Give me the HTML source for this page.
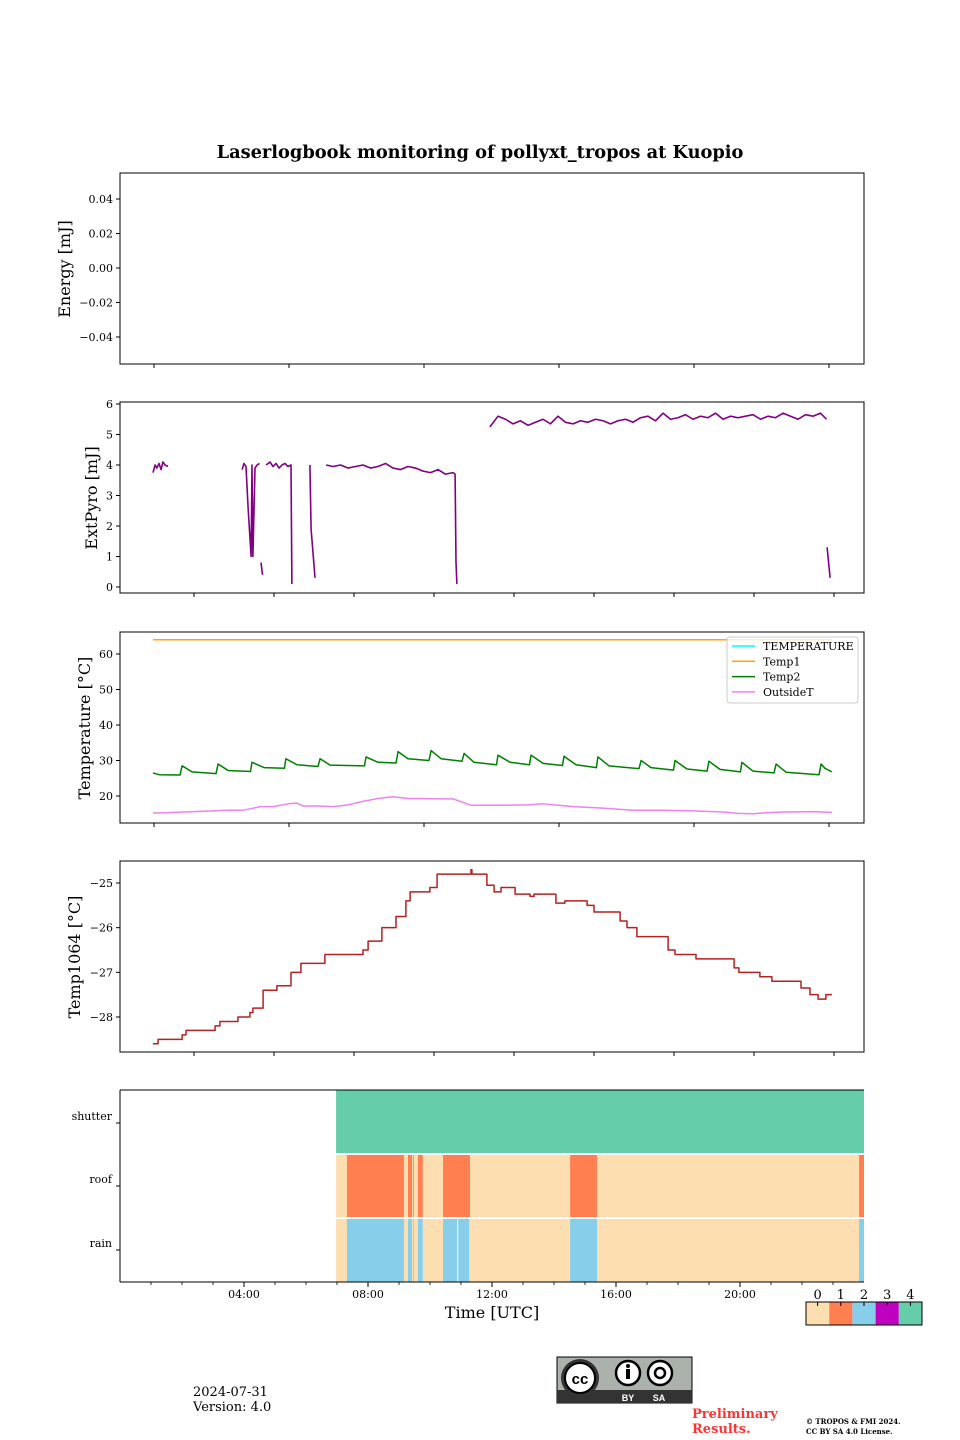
<!DOCTYPE html>
<html><head><meta charset="utf-8">
<style>
html,body{margin:0;padding:0;background:#fff;}
svg{display:block;font-family:"DejaVu Serif","Liberation Serif",serif;}
</style></head>
<body>
<svg id="fig" width="960" height="1440" viewBox="0 0 960 1440" xmlns="http://www.w3.org/2000/svg">
<text x="480" y="158" text-anchor="middle" font-size="17.8" font-weight="bold">Laserlogbook monitoring of pollyxt_tropos at Kuopio</text>
<g id="g"></g>
<text x="193" y="1396" font-size="13">2024-07-31</text>
<text x="193" y="1411" font-size="13">Version: 4.0</text>
<g>
<rect x="557" y="1357" width="135" height="46" fill="#aab2ab" stroke="#000" stroke-width="1"/>
<rect x="557" y="1390" width="135" height="13" fill="#333"/>
<circle cx="580" cy="1378" r="19" fill="#333"/>
<circle cx="580" cy="1378" r="15" fill="#fff" stroke="#000" stroke-width="2"/>
<text x="580" y="1384" text-anchor="middle" font-family="Liberation Sans" font-weight="bold" font-size="15">cc</text>
<circle cx="628" cy="1373" r="12" fill="#fff" stroke="#000" stroke-width="2.5"/>
<rect x="626" y="1369" width="4" height="10" fill="#000"/><circle cx="628" cy="1366" r="2" fill="#000"/>
<circle cx="660" cy="1373" r="12" fill="#fff" stroke="#000" stroke-width="2.5"/>
<circle cx="660" cy="1373" r="5" fill="none" stroke="#000" stroke-width="2.5"/>
<text x="628" y="1401" text-anchor="middle" fill="#fff" font-family="Liberation Sans" font-weight="bold" font-size="9">BY</text>
<text x="659" y="1401" text-anchor="middle" fill="#fff" font-family="Liberation Sans" font-weight="bold" font-size="9">SA</text>
</g>
<text x="692" y="1418" font-size="13" font-weight="bold" fill="#ff3333">Preliminary</text>
<text x="692" y="1433" font-size="13" font-weight="bold" fill="#ff3333">Results.</text>
<text x="806" y="1424" font-size="7" font-weight="bold">© TROPOS &amp; FMI 2024.</text>
<text x="806" y="1434" font-size="7" font-weight="bold">CC BY SA 4.0 License.</text>
</svg>
<script>
// ---------- data ----------
const energyTicks = [0.04, 0.02, 0.00, -0.02, -0.04];
const energyTickLabels = ["0.04","0.02","0.00","\u22120.02","\u22120.04"];
const pyroTicks = [0,1,2,3,4,5,6];
const tempTicks = [20,30,40,50,60];
const t1064Ticks = [-25,-26,-27,-28];
const t1064TickLabels = ["\u221225","\u221226","\u221227","\u221228"];

const pyroT = [1.0,1.07,1.13,1.2,1.27,1.33,1.4,1.5,null,
 3.97,4.03,4.1,4.17,4.27,4.3,4.33,4.4,4.47,4.55,null,
 4.6,4.65,null,
 4.77,4.9,5.0,5.1,5.2,5.3,5.4,5.5,5.6,5.63,null,
 6.23,6.27,6.4,null,
 6.77,7.0,7.25,7.5,7.75,8.0,8.25,8.5,8.75,9.0,9.25,9.5,9.75,10.0,10.25,10.5,10.75,11.0,11.07,11.1,11.13,null,
 12.23,12.5,12.75,13.0,13.25,13.5,13.75,14.0,14.25,14.5,14.75,15.0,15.25,15.5,15.75,16.0,16.25,16.5,16.75,17.0,17.25,17.5,17.75,18.0,18.25,18.5,18.75,19.0,19.25,19.5,19.75,20.0,20.25,20.5,20.75,21.0,21.25,21.5,21.75,22.0,22.25,22.5,22.75,23.0,23.25,23.45,null,
 23.47,23.57];
const pyroV = [3.75,4.0,3.9,4.05,3.85,4.1,4.0,3.95,null,
 3.85,4.05,3.95,2.6,1.0,4.0,1.0,3.9,4.0,4.05,null,
 0.8,0.4,null,
 4.0,4.1,3.95,4.05,3.9,4.0,4.05,3.95,4.0,0.1,null,
 4.0,1.9,0.3,null,
 4.0,3.95,4.0,3.9,3.95,4.0,3.9,3.95,4.05,3.9,3.85,3.95,3.9,3.8,3.75,3.85,3.7,3.75,3.7,0.8,0.1,null,
 5.25,5.6,5.5,5.35,5.45,5.3,5.4,5.5,5.35,5.6,5.4,5.35,5.45,5.4,5.5,5.45,5.35,5.45,5.5,5.4,5.55,5.6,5.45,5.7,5.5,5.55,5.65,5.5,5.6,5.55,5.7,5.5,5.6,5.55,5.6,5.65,5.5,5.6,5.55,5.7,5.6,5.5,5.65,5.6,5.7,5.5,null,
 1.3,0.3];

const temp1T = [1.0, 23.63];
const temp1V = [64, 64];
const temp2T = [1.0,1.2,1.9,1.97,2.3,3.1,3.17,3.5,4.25,4.3,4.7,5.38,5.43,5.8,6.5,6.57,6.9,8.05,8.1,8.5,9.1,9.17,9.5,10.2,10.27,10.6,11.3,11.37,11.7,12.45,12.5,12.9,13.55,13.6,14.0,14.65,14.7,15.1,15.78,15.83,16.2,17.2,17.27,17.6,18.35,18.4,18.8,19.47,19.53,19.9,20.58,20.63,21.0,21.7,21.77,22.1,23.2,23.27,23.4,23.63];
const temp2V = [26.5,26.0,25.9,28.5,26.8,26.3,29.0,27.2,26.9,29.5,28.0,27.8,30.5,28.8,28.3,30.5,28.7,28.5,31.0,29.5,29.3,32.5,30.5,30.0,32.8,30.5,29.8,32.0,29.5,28.8,31.5,29.5,28.8,31.5,29.2,28.6,31.2,28.8,28.0,31.0,28.5,27.7,30.0,28.0,27.3,30.0,27.6,27.0,29.8,27.5,26.8,29.5,27.0,26.5,29.0,26.7,26.0,29.0,27.8,26.8];
const outT = [1.0,1.5,2.0,3.0,3.5,4.0,4.3,4.6,5.0,5.5,5.8,6.0,6.5,7.0,7.5,8.0,8.5,9.0,9.5,10.0,10.5,11.0,11.3,11.6,12.5,13.5,14.0,14.5,15.0,16.0,17.0,18.0,19.0,20.0,20.5,21.0,21.5,22.0,23.0,23.63];
const outV = [15.2,15.3,15.5,15.8,16.0,16.0,16.5,17.0,17.0,17.8,18.0,17.2,17.2,17.0,17.5,18.5,19.3,19.8,19.3,19.3,19.2,19.2,18.3,17.4,17.4,17.5,17.8,17.4,17.0,16.6,16.0,16.0,15.8,15.5,15.1,15.0,15.3,15.5,15.6,15.4];

const t1064T = [1.00,1.17,1.97,2.10,2.37,3.07,3.23,3.83,4.23,4.33,4.67,5.13,5.60,5.93,6.57,6.73,7.67,8.00,8.17,8.63,9.10,9.43,9.57,10.23,10.47,11.60,11.63,11.70,12.13,12.37,12.60,13.07,13.57,13.70,14.27,14.43,14.73,15.30,15.47,15.70,16.33,16.57,16.80,17.13,18.00,18.17,18.40,18.93,19.10,20.07,20.37,20.53,21.17,21.23,21.63,22.43,22.60,22.90,23.17,23.43,23.63];
const t1064V = [-28.6,-28.5,-28.4,-28.3,-28.3,-28.2,-28.1,-28.0,-27.9,-27.8,-27.4,-27.3,-27.0,-26.8,-26.8,-26.6,-26.6,-26.5,-26.3,-26.0,-25.75,-25.4,-25.2,-25.1,-24.8,-24.7,-24.8,-24.8,-25.05,-25.2,-25.1,-25.25,-25.3,-25.25,-25.25,-25.45,-25.4,-25.4,-25.5,-25.65,-25.65,-25.85,-26.0,-26.2,-26.2,-26.5,-26.6,-26.6,-26.7,-26.7,-26.9,-27.0,-27.0,-27.1,-27.2,-27.2,-27.35,-27.5,-27.6,-27.5,-27.5];

const flagRows = ["shutter","roof","rain"];
const shutterSeg = [[6.97,24,4]];
const roofSeg = [[6.97,7.32,0],[7.32,9.16,1],[9.16,9.29,0],[9.29,9.42,1],[9.42,9.45,0],[9.45,9.48,1],[9.48,9.61,0],[9.61,9.77,1],[9.77,10.42,0],[10.42,11.29,1],[11.29,14.52,0],[14.52,15.39,1],[15.39,23.84,0],[23.84,24,1]];
const rainSeg = [[6.97,7.32,0],[7.32,9.16,2],[9.16,9.29,0],[9.29,9.42,2],[9.42,9.45,0],[9.45,9.48,2],[9.48,9.61,0],[9.61,9.77,2],[9.77,10.42,0],[10.42,10.88,2],[10.91,11.27,2],[11.27,14.52,0],[14.52,15.39,2],[15.39,23.84,0],[23.84,24,2]];
const stateColors = ["#fddeb0","#ff7f50","#87ceeb","#c000c0","#66cdaa"];
const stateLabels = ["0","1","2","3","4"];
const timeTicks = [4,8,12,16,20];
const timeTickLabels = ["04:00","08:00","12:00","16:00","20:00"];

// ---------- drawing ----------
const NS = "http://www.w3.org/2000/svg";
const root = document.getElementById("g");
function el(tag, attrs, parent){ const e=document.createElementNS(NS,tag); for(const k in attrs) e.setAttribute(k,attrs[k]); (parent||root).appendChild(e); return e; }
const L=120, R=864;
function xUp(t){ return 153 + (t-1)*30; }
function xLow(h){ return 120 + h*31; }
function lin(v0,p0,v1,p1){ return v=> p0 + (v-v0)*(p1-p0)/(v1-v0); }

function frame(top,bottom,name){
  const r = el("rect",{x:L,y:top,width:R-L,height:bottom-top,fill:"none",stroke:"#000","stroke-width":1});
  
  
}
function yAxis(vals,labels,yf,name,lblY,lblX){
  vals.forEach((v,i)=>{
    const y=yf(v);
    el("line",{x1:L-4,x2:L,y1:y,y2:y,stroke:"#000"});
    const t=el("text",{x:L-7,y:y+4,"text-anchor":"end","font-size":11});
    t.textContent=labels[i];
    
    
  });
  const t=el("text",{x:lblX,y:lblY,"text-anchor":"middle","font-size":16,transform:`rotate(-90 ${lblX} ${lblY})`});
  t.textContent=name;
  
  
}
function xTicks(bottom,start,step,n){
  for(let i=0;i<n;i++){ const x=start+i*step; el("line",{x1:x,x2:x,y1:bottom,y2:bottom+4,stroke:"#000"}); }
}
function path(ts,vs,xf,yf,color,name,step,w){
  let d="",pen=false,prev=null;
  for(let i=0;i<ts.length;i++){
    if(ts[i]===null||vs[i]===null){pen=false;continue;}
    const x=xf(ts[i]), y=yf(vs[i]);
    if(!pen){ d+=`M${x},${y}`; pen=true; }
    else if(step){ d+=`L${x},${prev}L${x},${y}`; }
    else d+=`L${x},${y}`;
    prev=y;
  }
  const p=el("path",{d:d,fill:"none",stroke:color,"stroke-width":w||1.5,"stroke-linejoin":"round"});
  
  
  return p;
}

// Panel 1: Energy
const yE = lin(0.04,199,-0.04,337);
frame(173,364,"energy-panel");
yAxis(energyTicks,energyTickLabels,yE,"Energy [mJ]",269,70);
xTicks(364,154,135,6);

// Panel 2: ExtPyro
const yP = lin(0,587,6,404);
frame(402,593,"extpyro-panel");
yAxis(pyroTicks,pyroTicks.map(String),yP,"ExtPyro [mJ]",498,97);
xTicks(593,194,80,9);
path(pyroT,pyroV,xUp,yP,"#800080","extpyro-line",false,1.6);

// Panel 3: Temperature
const yT = lin(20,796,60,654);
frame(632,823,"temperature-panel");
yAxis(tempTicks,tempTicks.map(String),yT,"Temperature [°C]",728,90);
xTicks(823,154,135,6);
path(temp1T,temp1V,xUp,yT,"#ffa500","temp1-line",false,1.5);
path(temp2T,temp2V,xUp,yT,"#008000","temp2-line",false,1.5);
path(outT,outV,xUp,yT,"#ee82ee","outsidet-line",false,1.5);
const lg=el("g",{});


el("rect",{x:727,y:637,width:131,height:66,rx:3,fill:"#fff","fill-opacity":0.8,stroke:"#ccc"},lg);
[["TEMPERATURE","#00ffff"],["Temp1","#ffa500"],["Temp2","#008000"],["OutsideT","#ee82ee"]].forEach((e,i)=>{
  const y=646+i*15.3;
  const ln=el("line",{x1:732,x2:755,y1:y,y2:y,stroke:e[1],"stroke-width":1.5},lg);
  
  
  const t=el("text",{x:763,y:y+4,"font-size":11},lg);
  t.textContent=e[0];
  
  
});

// Panel 4: Temp1064
const y4 = lin(-25,883,-28,1017);
frame(861,1052,"temp1064-panel");
yAxis(t1064Ticks,t1064TickLabels,y4,"Temp1064 [°C]",957,80);
xTicks(1052,194,80,9);
path(t1064T,t1064V,xUp,y4,"#b22222","temp1064-line",true,1.5);

// Panel 5: flags
const rowTop=[1090,1155,1219], rowBot=[1153,1217,1282];
[shutterSeg,roofSeg,rainSeg].forEach((segs,r)=>{
  segs.forEach(s=>{
    const x0=xLow(s[0]), x1=Math.min(xLow(s[1]),R);
    const rc=el("rect",{x:x0,y:rowTop[r],width:x1-x0,height:rowBot[r]-rowTop[r],fill:stateColors[s[2]]});
    
    
  });
  const yc=[1123,1186,1250][r];
  el("line",{x1:L-4,x2:L,y1:yc,y2:yc,stroke:"#000"});
  const t=el("text",{x:L-8,y:yc-3,"text-anchor":"end","font-size":11});
  t.textContent=flagRows[r];
  
  
});
el("line",{x1:L,x2:L,y1:1090,y2:1282,stroke:"#000"});
el("line",{x1:L,x2:R,y1:1282,y2:1282,stroke:"#000"});
el("line",{x1:L,x2:R,y1:1090,y2:1090,stroke:"#000"});
for(let h=1;h<24;h++){ const x=xLow(h); el("line",{x1:x,x2:x,y1:1282,y2:1285,stroke:"#000","stroke-width":0.8}); }
timeTicks.forEach((h,i)=>{
  const x=xLow(h);
  el("line",{x1:x,x2:x,y1:1282,y2:1287,stroke:"#000"});
  const t=el("text",{x:x,y:1298,"text-anchor":"middle","font-size":11});
  t.textContent=timeTickLabels[i];
  
  
});
const xt=el("text",{x:492,y:1318,"text-anchor":"middle","font-size":16});
xt.textContent="Time [UTC]";



// colorbar
const cb=el("g",{});


stateColors.forEach((c,i)=>{
  const x=806+i*23.2;
  el("rect",{x:x,y:1302,width:23.2,height:23,fill:c},cb);
  el("line",{x1:x+11.6,x2:x+11.6,y1:1302,y2:1306,stroke:"#000"},cb);
  const t=el("text",{x:x+11.6,y:1299,"text-anchor":"middle","font-size":13},cb);
  t.textContent=stateLabels[i];
  
  
});
el("rect",{x:806,y:1302,width:116,height:23,fill:"none",stroke:"#000"},cb);
</script>
</body></html>
